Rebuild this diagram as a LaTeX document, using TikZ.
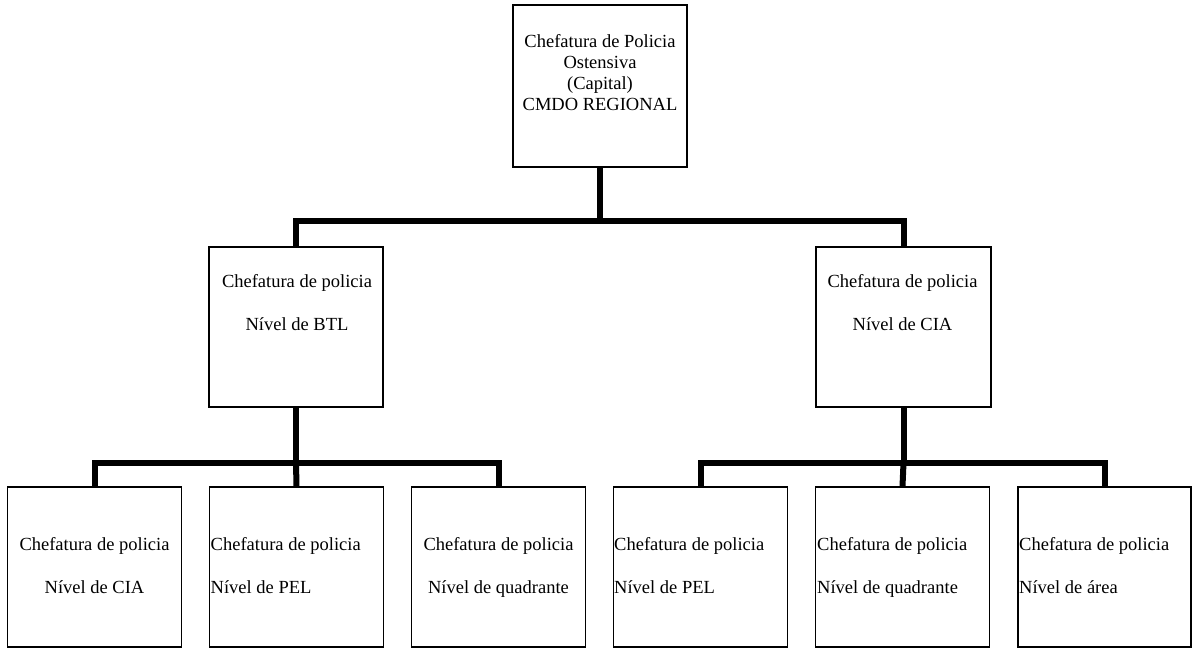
\documentclass[tikz,border=0pt]{standalone}
\usepackage{fontspec}
\setmainfont{Liberation Serif}
\begin{document}
\begin{tikzpicture}[x=1pt,y=-1pt,
  box/.style={draw,line width=1.5pt,inner sep=0pt,minimum width=174pt,minimum height=160pt},
  conn/.style={line width=6pt},
  txt/.style={inner sep=0pt,font=\fontsize{18.5}{21}\selectfont},
]
\useasboundingbox (0,0) rectangle (1192,648);
% boxes
\node[box,minimum height=162pt] (top) at (600,86) {};
\node[box] (m1) at (296,327) {};
\node[box,minimum width=175pt] (m2) at (903.5,327) {};
\node[box] (b1) at (94.5,567) {};
\node[box] (b2) at (296.5,567) {};
\node[box] (b3) at (498.5,567) {};
\node[box] (b4) at (700.5,567) {};
\node[box] (b5) at (902.5,567) {};
\node[box,minimum width=173pt] (b6) at (1104.5,567) {};
% top text
\node[txt,anchor=base] (t1) at (600,47) {Chefatura de Policia};
\node[txt,anchor=base] (t2) at (600,68) {Ostensiva};
\node[txt,anchor=base] (t3) at (600,89) {(Capital)};
\node[txt,anchor=base] (t4) at (600,110) {CMDO REGIONAL};
% middle texts
\node[txt,anchor=base] (m1a) at (297,287) {Chefatura de policia};
\node[txt,anchor=base] (m1b) at (297,330) {Nível de BTL};
\node[txt,anchor=base] (m2a) at (902.5,287) {Chefatura de policia};
\node[txt,anchor=base] (m2b) at (902.5,330) {Nível de CIA};
% bottom texts
\node[txt,anchor=base] (b1a) at (94.5,550) {Chefatura de policia};
\node[txt,anchor=base] (b1b) at (94.5,593) {Nível de CIA};
\node[txt,anchor=base west] (b2a) at (210.5,550) {Chefatura de policia};
\node[txt,anchor=base west] (b2b) at (210.5,593) {Nível de PEL};
\node[txt,anchor=base] (b3a) at (498.5,550) {Chefatura de policia};
\node[txt,anchor=base] (b3b) at (498.5,593) {Nível de quadrante};
\node[txt,anchor=base west] (b4a) at (614,550) {Chefatura de policia};
\node[txt,anchor=base west] (b4b) at (614,593) {Nível de PEL};
\node[txt,anchor=base west] (b5a) at (817,550) {Chefatura de policia};
\node[txt,anchor=base west] (b5b) at (817,593) {Nível de quadrante};
\node[txt,anchor=base west] (b6a) at (1019,550) {Chefatura de policia};
\node[txt,anchor=base west] (b6b) at (1019,593) {Nível de área};
% connectors
\coordinate (j0) at (600,221);
\coordinate (j1) at (296,463);
\coordinate (j2) at (903.5,463);
\draw[conn] (top.south) -- (j0);
\draw[conn] (m1.north) |- (j0) -| (m2.north);
\draw[conn] (m1.south) -- (j1);
\draw[conn] (b1.north) |- (j1) -| (b3.north);
\draw[conn] (j1) -- (b2.north);
\draw[conn] (m2.south) -- (j2);
\draw[conn] (b4.north) |- (j2) -| (b6.north);
\draw[conn] (j2) -- (b5.north);
\end{tikzpicture}
\end{document}
